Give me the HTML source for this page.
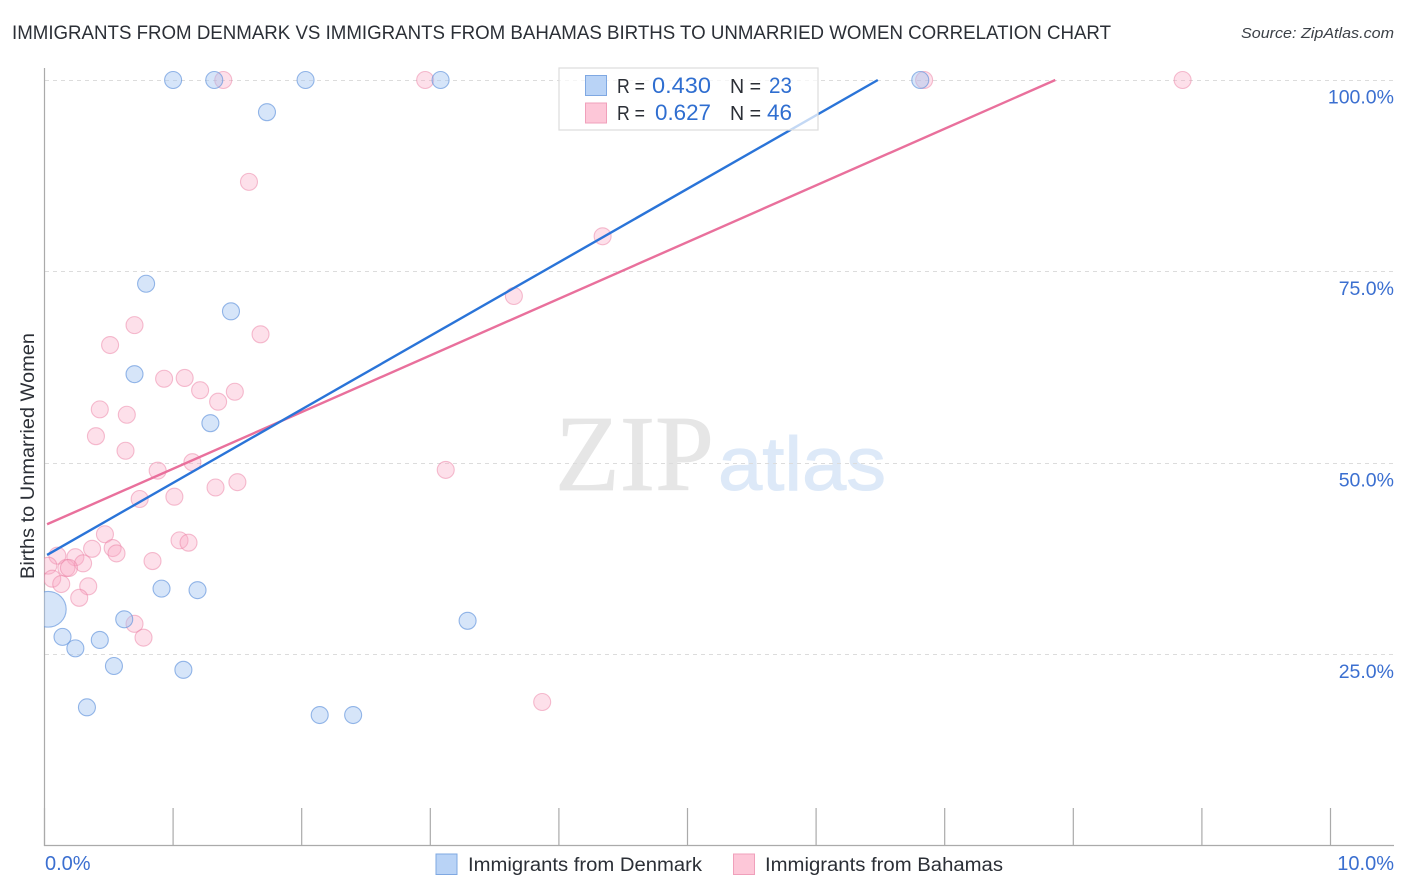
<!DOCTYPE html>
<html lang="en">
<head>
<meta charset="utf-8">
<title>Immigrants from Denmark vs Immigrants from Bahamas Births to Unmarried Women Correlation Chart</title>
<style>
html,body{margin:0;padding:0;background:#fff;}
body{width:1406px;height:892px;overflow:hidden;}
svg{display:block;}
text{font-family:"Liberation Sans",sans-serif;}
</style>
</head>
<body>
<svg id="chart" width="1406" height="892" viewBox="0 0 1406 892" xmlns="http://www.w3.org/2000/svg">
  <defs>
    <clipPath id="plot-clip"><rect x="44" y="60" width="1350" height="786"/></clipPath>
  </defs>
  <text x="12" y="39" font-size="19" fill="#2b2f36" textLength="1099" lengthAdjust="spacingAndGlyphs">IMMIGRANTS FROM DENMARK VS IMMIGRANTS FROM BAHAMAS BIRTHS TO UNMARRIED WOMEN CORRELATION CHART</text>
  <text x="1241" y="38" font-size="15" font-style="italic" fill="#3c4148" textLength="153" lengthAdjust="spacingAndGlyphs">Source: ZipAtlas.com</text>
  <g id="watermark">
    <text x="555" y="490" font-size="108" fill="#e6e6e6" stroke="#e6e6e6" stroke-width="0.8" textLength="159" lengthAdjust="spacingAndGlyphs" style="font-family:'Liberation Serif',serif">ZIP</text>
    <text x="718" y="490" font-size="76" fill="#dde9f8" stroke="#dde9f8" stroke-width="1" textLength="168" lengthAdjust="spacingAndGlyphs">atlas</text>
  </g>
  <g id="grid"></g>
  <g id="axes"></g>
  <g id="points" clip-path="url(#plot-clip)"></g>
  <g id="trends"></g>
  <g id="stat-legend">
    <rect x="559" y="68" width="259" height="62" fill="#fff" fill-opacity="0.72" stroke="#dcdcdc" stroke-width="1.2"/>
    <rect x="585.5" y="75.5" width="21" height="20" fill="#b9d3f6" stroke="#7fa8e2"/>
    <rect x="585.5" y="103" width="21" height="20" fill="#fdc7d8" stroke="#f0a0bb"/>
    <text x="617" y="93" font-size="20" fill="#2b2f36" textLength="28" lengthAdjust="spacingAndGlyphs">R =</text>
    <text x="652" y="93" font-size="22" fill="#2f6ed0" textLength="59" lengthAdjust="spacingAndGlyphs">0.430</text>
    <text x="730" y="93" font-size="20" fill="#2b2f36" textLength="31" lengthAdjust="spacingAndGlyphs">N =</text>
    <text x="769" y="93" font-size="22" fill="#2f6ed0" textLength="23" lengthAdjust="spacingAndGlyphs">23</text>
    <text x="617" y="120" font-size="20" fill="#2b2f36" textLength="28" lengthAdjust="spacingAndGlyphs">R =</text>
    <text x="655" y="120" font-size="22" fill="#2f6ed0" textLength="56" lengthAdjust="spacingAndGlyphs">0.627</text>
    <text x="730" y="120" font-size="20" fill="#2b2f36" textLength="31" lengthAdjust="spacingAndGlyphs">N =</text>
    <text x="767" y="120" font-size="22" fill="#2f6ed0" textLength="25" lengthAdjust="spacingAndGlyphs">46</text>
  </g>
  <g id="bottom-legend">
    <rect x="436" y="854" width="21" height="20.5" fill="#b9d3f6" stroke="#7fa8e2"/>
    <text x="468" y="871" font-size="19" fill="#2b2f36" textLength="234" lengthAdjust="spacingAndGlyphs">Immigrants from Denmark</text>
    <rect x="733.5" y="854" width="21" height="20.5" fill="#fdc7d8" stroke="#f0a0bb"/>
    <text x="765" y="871" font-size="19" fill="#2b2f36" textLength="238" lengthAdjust="spacingAndGlyphs">Immigrants from Bahamas</text>
  </g>
  <text transform="translate(34 579) rotate(-90)" font-size="19" fill="#2b2f36" textLength="246" lengthAdjust="spacingAndGlyphs">Births to Unmarried Women</text>
</svg>
<script>
const xTickValues = [0,1,2,3,4,5,6,7,8,9,10];
const yTickValues = [25,50,75,100];
const yTickLabels = ['25.0%','50.0%','75.0%','100.0%'];
const xEndLabels = ['0.0%','10.0%'];

const denmarkX = [1.00,1.32,2.03,3.08,6.81,1.73,0.79,1.45,0.70,1.29,0.91,1.19,0.62,3.29,0.14,0.43,0.24,0.54,1.08,0.33,2.14,2.40,0.03];
const denmarkY = [100,100,100,100,100,95.8,73.4,69.8,61.6,55.2,33.6,33.4,29.6,29.4,27.3,26.9,25.8,23.5,23.0,18.1,17.1,17.1,30.9];
const denmarkWeight = [1,1,1,1,1,1,1,1,1,1,1,1,1,1,1,1,1,1,1,1,1,1,4.4];

const bahamasX = [1.39,2.96,6.84,8.85,1.59,4.34,3.65,0.70,1.68,0.51,0.93,1.09,1.21,1.48,1.35,0.43,0.64,0.40,0.63,1.15,0.88,3.12,1.50,1.33,1.01,0.74,0.47,1.05,1.12,0.37,0.53,0.56,0.84,0.10,0.24,0.30,0.17,0.19,0.03,0.06,0.13,0.34,0.27,0.70,0.77,3.87];
const bahamasY = [100,100,100,100,86.7,79.6,71.8,68.0,66.8,65.4,61.0,61.1,59.5,59.3,58.0,57.0,56.3,53.5,51.6,50.1,49.0,49.1,47.5,46.8,45.6,45.3,40.7,39.9,39.6,38.8,38.9,38.2,37.2,37.9,37.7,36.9,36.3,36.3,36.6,34.9,34.2,33.9,32.4,29.0,27.2,18.8];

const denmarkTrendX = [0.02,6.48];
const denmarkTrendY = [38.0,100];
const bahamasTrendX = [0.02,7.86];
const bahamasTrendY = [42.0,100];

const NS = 'http://www.w3.org/2000/svg';
const xScale = function (v) { return 44.5 + v * 128.6; };
const yScale = function (v) { return 846 - v * 7.66; };

function make(tag, attrs, parent) {
  const el = document.createElementNS(NS, tag);
  Object.keys(attrs).forEach(function (k) { el.setAttribute(k, attrs[k]); });
  parent.appendChild(el);
  return el;
}

const gridG = document.getElementById('grid');
const axesG = document.getElementById('axes');
const pointsG = document.getElementById('points');
const trendsG = document.getElementById('trends');

yTickValues.forEach(function (v, i) {
  const y = Math.floor(yScale(v)) + 0.5;
  const line = make('line', {x1: 45, x2: 1394, y1: y, y2: y, stroke: '#dcdcdc', 'stroke-width': 1, 'stroke-dasharray': '4 4'}, gridG);
  
  
  const label = make('text', {x: 1394, y: yScale(v) + 23.5, 'font-size': 19.5, fill: '#3b6fd0', 'text-anchor': 'end'}, axesG);
  label.textContent = yTickLabels[i];
  
  
});

const yAxisLine = make('line', {x1: 44.5, x2: 44.5, y1: 68, y2: 846, stroke: '#aaaaaa', 'stroke-width': 1.2}, axesG);


const xAxisLine = make('line', {x1: 44, x2: 1394, y1: 845.5, y2: 845.5, stroke: '#aaaaaa', 'stroke-width': 1.2}, axesG);



xTickValues.forEach(function (v) {
  const x = xScale(v);
  const tick = make('line', {x1: x, x2: x, y1: 808, y2: 846, stroke: '#aaaaaa', 'stroke-width': 1.2}, axesG);
  
  
});

const xLabelStart = make('text', {x: xScale(xTickValues[0]) + 0.5, y: 870, 'font-size': 20, fill: '#3b6fd0'}, axesG);
xLabelStart.textContent = xEndLabels[0];


const xLabelEnd = make('text', {x: 1394, y: 870, 'font-size': 20, fill: '#3b6fd0', 'text-anchor': 'end'}, axesG);
xLabelEnd.textContent = xEndLabels[1];



bahamasX.forEach(function (v, i) {
  const c = make('circle', {cx: xScale(v), cy: yScale(bahamasY[i]), r: 8.5, fill: '#f9a8c4', 'fill-opacity': 0.36, stroke: '#ec7fa3', 'stroke-opacity': 0.5, 'stroke-width': 1.1}, pointsG);
  
  
});

denmarkX.forEach(function (v, i) {
  const c = make('circle', {cx: xScale(v), cy: yScale(denmarkY[i]), r: 8.5 * Math.sqrt(denmarkWeight[i]), fill: '#a5c6f2', 'fill-opacity': 0.45, stroke: '#5f92dc', 'stroke-opacity': 0.65, 'stroke-width': 1.1}, pointsG);
  
  
});

const bahamasTrend = make('line', {x1: xScale(bahamasTrendX[0]), y1: yScale(bahamasTrendY[0]), x2: xScale(bahamasTrendX[1]), y2: yScale(bahamasTrendY[1]), stroke: '#e9709c', 'stroke-width': 2.4}, trendsG);


const denmarkTrend = make('line', {x1: xScale(denmarkTrendX[0]), y1: yScale(denmarkTrendY[0]), x2: xScale(denmarkTrendX[1]), y2: yScale(denmarkTrendY[1]), stroke: '#2a74d8', 'stroke-width': 2.4}, trendsG);


</script>
</body>
</html>
